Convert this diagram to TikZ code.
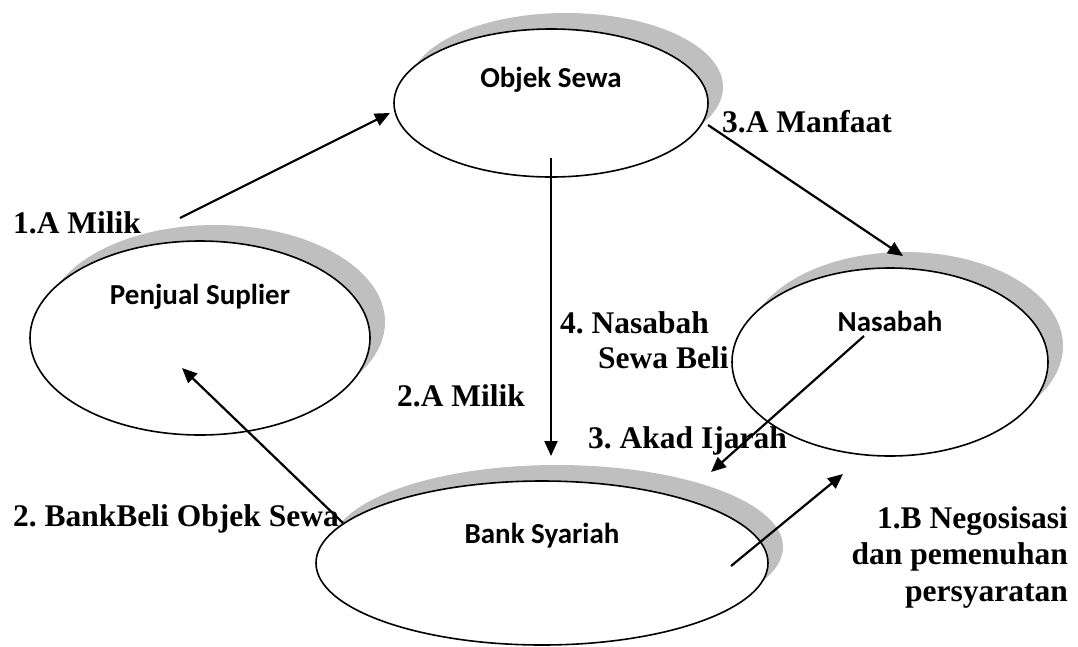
\documentclass[tikz,border=0pt]{standalone}
\usepackage{fontspec}
\setmainfont{Liberation Serif}
\newfontfamily\calibrifont{Carlito}
\usetikzlibrary{arrows.meta,shapes.geometric,shadows}
\definecolor{shadowgray}{RGB}{191,191,191}
\frenchspacing
\begin{document}
\begin{tikzpicture}[x=1pt,y=-1pt,>={Triangle[length=15pt,width=13pt]},
  ell/.style={ellipse,draw,line width=1.6pt,fill=white,inner sep=0pt,
    drop shadow={shadow xshift=15pt,shadow yshift=16pt,fill=shadowgray,opacity=1}},
  lbl/.style={font=\fontsize{31.5}{36.5}\selectfont\bfseries,inner sep=0pt},
  inlbl/.style={font=\fontsize{29}{34}\selectfont\calibrifont\bfseries,inner sep=0pt},
  conn/.style={->,line width=2.2pt}]
\useasboundingbox (0,0) rectangle (1078,646);

\node[ell,minimum width=314pt,minimum height=148pt] (objek) at (551,103) {};
\node[ell,minimum width=340pt,minimum height=194pt] (penjual) at (200,338) {};
\node[ell,minimum width=316pt,minimum height=188pt] (nasabah) at (890,362) {};
\node[ell,minimum width=452pt,minimum height=164pt] (bank) at (542,563) {};

\node[inlbl,anchor=base] (objektxt) at (551,87) {Objek Sewa};
\node[inlbl,anchor=base] (penjualtxt) at (200,304) {Penjual Suplier};
\node[inlbl,anchor=base] (nasabahtxt) at (890,331) {Nasabah};
\node[inlbl,anchor=base] (banktxt) at (542,543) {Bank Syariah};

\coordinate (milikS) at (180,218); \coordinate (milikE) at (390,113);
\coordinate (manfaatS) at (708,125); \coordinate (manfaatE) at (903,256);
\coordinate (sewaS) at (551,158); \coordinate (sewaE) at (551,456);
\coordinate (akadS) at (864,336); \coordinate (akadE) at (711,472);
\coordinate (beliS) at (343,523); \coordinate (beliE) at (182,368);
\coordinate (negoS) at (731,566); \coordinate (negoE) at (843,474);

\draw[conn] (milikS)--(milikE); \draw[conn] (manfaatS)--(manfaatE);
\draw[conn] (sewaS)--(sewaE); \draw[conn] (akadS)--(akadE);
\draw[conn] (beliS)--(beliE); \draw[conn] (negoS)--(negoE);

\node[lbl,anchor=base west] (milik1) at (13,233) {1.A Milik};
\node[lbl,anchor=base west] (manfaat3) at (722,132) {3.A Manfaat};
\node[lbl,anchor=base west] (sewa4) at (560,333) {4. Nasabah};
\node[lbl,anchor=base west] (sewa4b) at (598,368) {Sewa Beli};
\node[lbl,anchor=base west] (milik2) at (397,406) {2.A Milik};
\node[lbl,anchor=base west] (akad3) at (588,448) {3. Akad Ijarah};
\node[lbl,anchor=base west] (beli2) at (13,526) {2. BankBeli Objek Sewa};
\node[lbl,anchor=north east,align=right] (nego1) at (1068,506) {1.B Negosisasi\\dan pemenuhan\\persyaratan};
\end{tikzpicture}
\end{document}
